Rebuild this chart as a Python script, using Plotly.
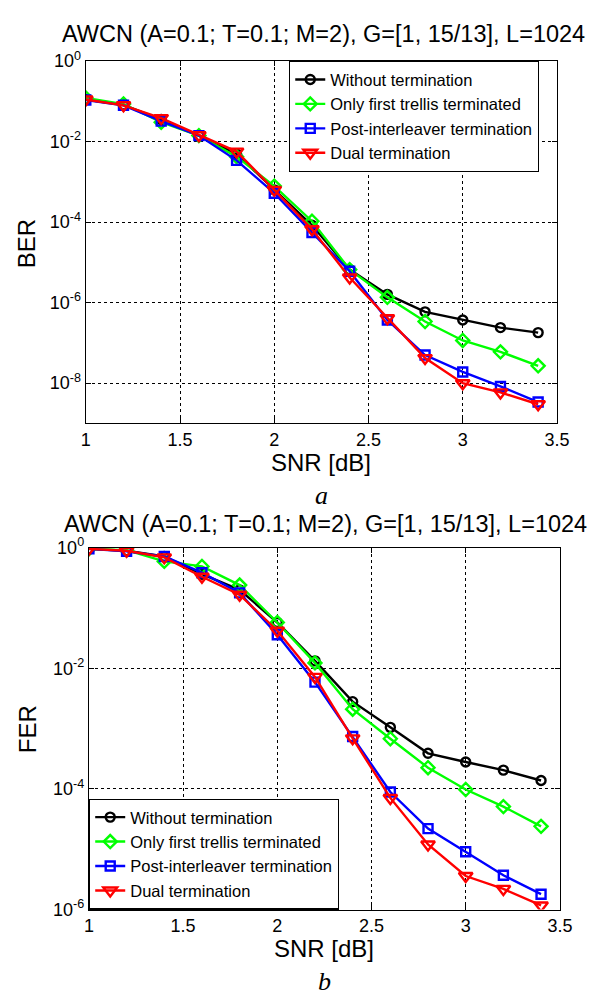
import plotly.graph_objects as go

snr = [1.0, 1.2, 1.4, 1.6, 1.8, 2.0, 2.2, 2.4, 2.6, 2.8, 3.0, 3.2, 3.4]
names = ["Without termination", "Only first trellis terminated",
         "Post-interleaver termination", "Dual termination"]

ber_none = [1.1e-1, 8.1e-2, 3.5e-2, 1.4e-2, 4.9e-3, 6.3e-4, 8.3e-5, 6.6e-6, 1.6e-6, 5.9e-7, 3.7e-7, 2.4e-7, 1.8e-7]
ber_first = [1.2e-1, 8.5e-2, 3.0e-2, 1.4e-2, 4.2e-3, 7.8e-4, 1.05e-4, 6.6e-6, 1.35e-6, 3.4e-7, 1.15e-7, 6.0e-8, 2.7e-8]
ber_post = [1.07e-1, 7.9e-2, 3.2e-2, 1.4e-2, 3.4e-3, 5.2e-4, 5.5e-5, 6.0e-6, 3.7e-7, 5.0e-8, 1.9e-8, 8.3e-9, 3.4e-9]
ber_dual = [1.1e-1, 7.9e-2, 3.8e-2, 1.43e-2, 5.6e-3, 6.3e-4, 6.6e-5, 4.2e-6, 4.1e-7, 4.2e-8, 1.0e-8, 5.9e-9, 3.0e-9]

fer_none = [0.955, 0.89, 0.715, 0.363, 0.2, 5.75e-2, 1.33e-2, 2.8e-3, 1.05e-3, 3.9e-4, 2.8e-4, 2.05e-4, 1.38e-4]
fer_first = [0.955, 0.91, 0.593, 0.49, 0.24, 5.75e-2, 1.23e-2, 2.1e-3, 6.8e-4, 2.25e-4, 9.8e-5, 5.1e-5, 2.4e-5]
fer_post = [0.955, 0.87, 0.715, 0.385, 0.178, 3.6e-2, 5.9e-3, 7.4e-4, 8.9e-5, 2.2e-5, 9.1e-6, 3.7e-6, 1.8e-6]
fer_dual = [0.955, 0.89, 0.69, 0.33, 0.166, 4.2e-2, 7.2e-3, 6.9e-4, 7.1e-5, 1.2e-5, 3.6e-6, 2.2e-6, 1.17e-6]

ber_ticks = [1e-8, 1e-6, 1e-4, 1e-2, 1]
ber_ticktext = ["10<sup>-8</sup>", "10<sup>-6</sup>", "10<sup>-4</sup>", "10<sup>-2</sup>", "10<sup>0</sup>"]
fer_ticks = [1e-6, 1e-4, 1e-2, 1]
fer_ticktext = ["10<sup>-6</sup>", "10<sup>-4</sup>", "10<sup>-2</sup>", "10<sup>0</sup>"]

colors = ["#000000", "#00ff00", "#0000ff", "#ff0000"]
symbols = ["circle-open", "diamond-open", "square-open", "triangle-down-open"]
sizes = [9, 10, 9, 12]

W, H = 602, 1003
FONT = "Liberation Sans, Arial, sans-serif"
SERIF = "Liberation Serif, Times New Roman, serif"

fig = go.Figure()

for i, ys in enumerate([ber_none, ber_first, ber_post, ber_dual]):
    fig.add_trace(go.Scatter(
        x=snr, y=ys, name=names[i], mode="lines+markers",
        line=dict(color=colors[i], width=2.4),
        marker=dict(symbol=symbols[i], size=sizes[i], color=colors[i],
                    line=dict(color=colors[i], width=2.4)),
        xaxis="x", yaxis="y", legend="legend"))

for i, ys in enumerate([fer_none, fer_first, fer_post, fer_dual]):
    fig.add_trace(go.Scatter(
        x=snr, y=ys, name=names[i], mode="lines+markers",
        line=dict(color=colors[i], width=2.4),
        marker=dict(symbol=symbols[i], size=sizes[i], color=colors[i],
                    line=dict(color=colors[i], width=2.4)),
        xaxis="x2", yaxis="y2", legend="legend2"))

def px_x(p):
    return p / W

def px_y(p):
    return 1 - p / H

axis_common = dict(showline=True, linecolor="black", linewidth=1.3, mirror="ticks",
                   ticks="inside", ticklen=5, tickcolor="black",
                   showgrid=True, gridcolor="black", gridwidth=1, griddash="dot",
                   zeroline=False, tickfont=dict(family=FONT, size=18, color="black"))

legend_common = dict(bgcolor="white", bordercolor="black", borderwidth=1.3,
                     font=dict(family=FONT, size=16.5, color="black"),
                     tracegroupgap=0, itemwidth=30)

fig.update_layout(
    width=W, height=H, margin=dict(l=0, r=0, t=0, b=0),
    paper_bgcolor="white", plot_bgcolor="white",
    font=dict(family=FONT, color="black"),
    xaxis=dict(domain=[px_x(83.3), px_x(569)], range=[1, 3.5], dtick=0.5,
               anchor="y", **axis_common),
    yaxis=dict(domain=[px_y(420.7), px_y(50)], type="log", range=[-9, 0],
               tickvals=ber_ticks, ticktext=ber_ticktext, anchor="x", **axis_common),
    xaxis2=dict(domain=[px_x(86.5), px_x(572)], range=[1, 3.5], dtick=0.5,
                anchor="y2", **axis_common),
    yaxis2=dict(domain=[px_y(917.7), px_y(547.7)], type="log", range=[-6, 0],
                tickvals=fer_ticks, ticktext=fer_ticktext, anchor="x2", **axis_common),
    legend=dict(x=px_x(292.7), y=px_y(50), xanchor="left", yanchor="top", **legend_common),
    legend2=dict(x=px_x(86.5), y=px_y(917.7), xanchor="left", yanchor="bottom", **legend_common),
    showlegend=True,
)

title_text = "AWCN (A=0.1; T=0.1; M=2), G=[1, 15/13], L=1024"
ann = [
    dict(text=title_text, x=px_x(328), y=px_y(22), font=dict(size=23.5)),
    dict(text=title_text, x=px_x(330), y=px_y(523), font=dict(size=23.5)),
    dict(text="SNR [dB]", x=px_x(326), y=px_y(461), font=dict(size=24)),
    dict(text="SNR [dB]", x=px_x(329), y=px_y(958), font=dict(size=24)),
    dict(text="BER", x=px_x(22), y=px_y(237), font=dict(size=24), textangle=-90),
    dict(text="FER", x=px_x(24), y=px_y(733), font=dict(size=24), textangle=-90),
    dict(text="<i>a</i>", x=px_x(326), y=px_y(494), font=dict(size=26, family=SERIF)),
    dict(text="<i>b</i>", x=px_x(329), y=px_y(991), font=dict(size=26, family=SERIF)),
]
for a in ann:
    a.update(xref="paper", yref="paper", showarrow=False, xanchor="center", yanchor="middle")
    a["font"].setdefault("family", FONT)
    a["font"]["color"] = "black"
fig.update_layout(annotations=ann)

fig.write_html("out.html", config={"displayModeBar": False},
               post_script="document.documentElement.style.margin='0';"
                           "document.body.style.margin='0';"
                           "document.body.style.overflow='hidden';")
